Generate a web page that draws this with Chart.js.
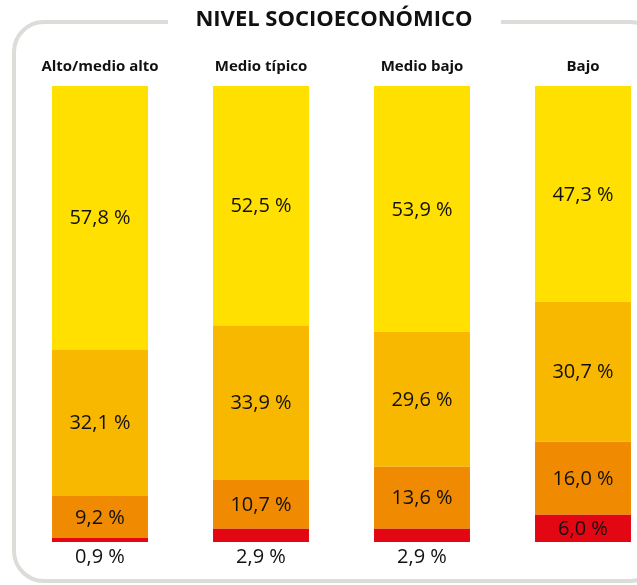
<!DOCTYPE html>
<html>
<head>
<meta charset="utf-8">
<script src="https://cdn.jsdelivr.net/npm/chart.js@4/dist/chart.umd.min.js"></script>
<style>
html,body{margin:0;padding:0;background:#fff;overflow:hidden;width:637px;height:585px;}
#wrap{position:absolute;left:0;top:0;width:700px;height:585px;}
</style>
</head>
<body>
<div id="wrap"><canvas id="c" width="700" height="585"></canvas></div>
<script>
const title = "NIVEL SOCIOECONÓMICO";
const categories = ["Alto/medio alto", "Medio típico", "Medio bajo", "Bajo"];
const seriesNames = ["s4", "s3", "s2", "s1"];
const redValues = [0.9, 2.9, 2.9, 6.0];
const orangeValues = [9.2, 10.7, 13.6, 16.0];
const amberValues = [32.1, 33.9, 29.6, 30.7];
const yellowValues = [57.8, 52.5, 53.9, 47.3];
const colors = ["#E30613", "#F08A00", "#F9B800", "#FFE000"];

const fmt = v => v.toFixed(1).replace('.', ',') + ' %';

const framePlugin = {
  id: 'frame',
  beforeDraw(chart) {
    const ctx = chart.ctx;
    ctx.save();
    ctx.strokeStyle = '#dcdcd8';
    ctx.lineWidth = 4;
    const x0 = 14, y0 = 22, x1 = 660, y1 = 581, r = 30;
    ctx.beginPath();
    ctx.moveTo(x0 + r, y0);
    ctx.lineTo(x1 - r, y0);
    ctx.arcTo(x1, y0, x1, y0 + r, r);
    ctx.lineTo(x1, y1 - r);
    ctx.arcTo(x1, y1, x1 - r, y1, r);
    ctx.lineTo(x0 + r, y1);
    ctx.arcTo(x0, y1, x0, y1 - r, r);
    ctx.lineTo(x0, y0 + r);
    ctx.arcTo(x0, y0, x0 + r, y0, r);
    ctx.closePath();
    ctx.stroke();
    ctx.fillStyle = '#fff';
    ctx.fillRect(168, 5, 333, 30);
    ctx.fillStyle = '#111';
    ctx.font = 'bold 22px "Open Sans"';
    ctx.textAlign = 'center';
    ctx.textBaseline = 'middle';
    ctx.fillText(title, 334, 20);
    ctx.restore();
  },
  afterDatasetsDraw(chart) {
    const ctx = chart.ctx;
    ctx.save();
    ctx.font = '20px "Open Sans"';
    ctx.fillStyle = '#111';
    ctx.textAlign = 'center';
    ctx.textBaseline = 'middle';
    chart.data.datasets.forEach((ds, di) => {
      const meta = chart.getDatasetMeta(di);
      meta.data.forEach((bar, i) => {
        const v = ds.data[i];
        const p = bar.getProps(['x', 'y', 'base'], true);
        let y;
        if (v < 4) y = p.base + 15;
        else y = (p.y + p.base) / 2 + 1;
        ctx.fillText(fmt(v), p.x, y);
      });
    });
    ctx.restore();
  }
};

new Chart(document.getElementById('c'), {
  type: 'bar',
  data: {
    labels: categories,
    datasets: [
      { label: seriesNames[0], data: redValues, backgroundColor: colors[0] },
      { label: seriesNames[1], data: orangeValues, backgroundColor: colors[1] },
      { label: seriesNames[2], data: amberValues, backgroundColor: colors[2] },
      { label: seriesNames[3], data: yellowValues, backgroundColor: colors[3] }
    ]
  },
  options: {
    responsive: false,
    animation: false,
    devicePixelRatio: 1,
    layout: { padding: { left: 19.5, right: 36.5, top: 50, bottom: 43 } },
    datasets: { bar: { categoryPercentage: 1, barPercentage: 0.596, borderWidth: 0 } },
    plugins: { legend: { display: false }, tooltip: { enabled: false } },
    scales: {
      x: {
        stacked: true,
        position: 'top',
        grid: { display: false, drawTicks: false },
        border: { display: false },
        ticks: { padding: 10, color: '#111', font: { family: 'Open Sans', size: 15, weight: 'bold' } },
        afterFit: s => { s.height = 36; }
      },
      y: {
        stacked: true,
        display: false,
        min: 0,
        max: 100
      }
    }
  },
  plugins: [framePlugin]
});
</script>
</body>
</html>
